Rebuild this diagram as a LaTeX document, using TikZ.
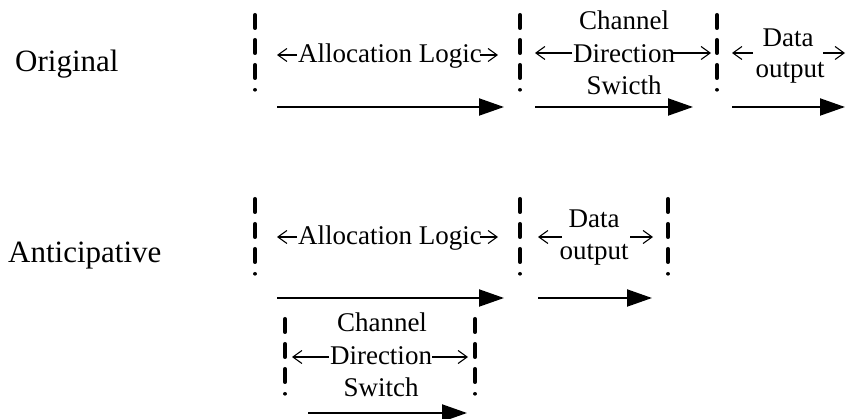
\documentclass[tikz,border=0pt]{standalone}
\usepackage{fontspec}
\setmainfont{Liberation Serif}
\usetikzlibrary{arrows.meta}
\begin{document}
\begin{tikzpicture}[x=1pt,y=-1pt,
  lbl/.style={font=\fontsize{31}{31}\selectfont, inner sep=0pt, anchor=base west},
  txt/.style={font=\fontsize{27}{27}\selectfont, inner sep=0pt, anchor=base},
  flow/.style={line width=2pt, -{Triangle[length=25pt,width=17pt]}},
  span/.style={line width=1.1pt, -{Straight Barb[length=9pt,width=13pt]}},
  sep/.style={line width=3.6pt, line cap=round,
    dash pattern=on 13.4pt off 11.6pt on 13.4pt off 11.6pt on 13.4pt off 11.6pt on 0.01pt off 100pt}]
\useasboundingbox (0,0) rectangle (852,419);

% ---------------- Original scheme ----------------
\node[lbl] (orig) at (15,72) {Original};

% phase separators
\coordinate (s1t) at (255,14.8); \coordinate (s1b) at (255,90);
\coordinate (s2t) at (520,14.8); \coordinate (s2b) at (520,90);
\coordinate (s3t) at (717,14.8); \coordinate (s3b) at (717,90);
\draw[sep] (s1t) -- (s1b);
\draw[sep] (s2t) -- (s2b);
\draw[sep] (s3t) -- (s3b);

% allocation logic
\node[txt] (al1) at (390,63) {Allocation Logic};
\coordinate (al1l) at (277,55); \coordinate (al1a) at (297,55);
\coordinate (al1b) at (480,55); \coordinate (al1r) at (498,55);
\draw[span] (al1a) -- (al1l);
\draw[span] (al1b) -- (al1r);

% channel direction switch
\node[txt] (cd1a) at (624,30) {Channel};
\node[txt] (cd1b) at (624,63) {Direction};
\node[txt] (cd1c) at (624,95) {Swicth};
\coordinate (cd1l) at (535,53); \coordinate (cd1p) at (572,53);
\coordinate (cd1q) at (671,53); \coordinate (cd1r) at (711,53);
\draw[span] (cd1p) -- (cd1l);
\draw[span] (cd1q) -- (cd1r);

% data output
\node[txt] (do1a) at (788,47) {Data};
\node[txt] (do1b) at (790,78) {output};
\coordinate (do1l) at (732,53); \coordinate (do1p) at (753,53);
\coordinate (do1q) at (823,53); \coordinate (do1r) at (845,53);
\draw[span] (do1p) -- (do1l);
\draw[span] (do1q) -- (do1r);

% time flow
\coordinate (f1a) at (277,107); \coordinate (f1b) at (504,107);
\coordinate (f2a) at (535,107); \coordinate (f2b) at (693,107);
\coordinate (f3a) at (732,107); \coordinate (f3b) at (845,107);
\draw[flow] (f1a) -- (f1b);
\draw[flow] (f2a) -- (f2b);
\draw[flow] (f3a) -- (f3b);

% ---------------- Anticipative scheme ----------------
\node[lbl] (antic) at (8,263) {Anticipative};

\coordinate (t1t) at (255,198.8); \coordinate (t1b) at (255,274);
\coordinate (t2t) at (520,198.8); \coordinate (t2b) at (520,274);
\coordinate (t3t) at (668,198.8); \coordinate (t3b) at (668,274);
\draw[sep] (t1t) -- (t1b);
\draw[sep] (t2t) -- (t2b);
\draw[sep] (t3t) -- (t3b);

% allocation logic
\node[txt] (al2) at (390,245) {Allocation Logic};
\coordinate (al2l) at (277,237); \coordinate (al2a) at (297,237);
\coordinate (al2b) at (480,237); \coordinate (al2r) at (498,237);
\draw[span] (al2a) -- (al2l);
\draw[span] (al2b) -- (al2r);

% data output
\node[txt] (do2a) at (594,228) {Data};
\node[txt] (do2b) at (594,260) {output};
\coordinate (do2l) at (538,237); \coordinate (do2p) at (562,237);
\coordinate (do2q) at (630,237); \coordinate (do2r) at (653,237);
\draw[span] (do2p) -- (do2l);
\draw[span] (do2q) -- (do2r);

\coordinate (g1a) at (277,298); \coordinate (g1b) at (504,298);
\coordinate (g2a) at (538,298); \coordinate (g2b) at (652,298);
\draw[flow] (g1a) -- (g1b);
\draw[flow] (g2a) -- (g2b);

% channel direction switch, overlapped with allocation logic
\coordinate (u1t) at (285,318.8); \coordinate (u1b) at (285,394);
\coordinate (u2t) at (475,318.8); \coordinate (u2b) at (475,394);
\draw[sep] (u1t) -- (u1b);
\draw[sep] (u2t) -- (u2b);

\node[txt] (cd2a) at (382,332) {Channel};
\node[txt] (cd2b) at (381,365) {Direction};
\node[txt] (cd2c) at (381,397) {Switch};
\coordinate (cd2l) at (292,357); \coordinate (cd2p) at (329,357);
\coordinate (cd2q) at (432,357); \coordinate (cd2r) at (468,357);
\draw[span] (cd2p) -- (cd2l);
\draw[span] (cd2q) -- (cd2r);

\coordinate (h1a) at (308,413); \coordinate (h1b) at (467,413);
\draw[flow] (h1a) -- (h1b);
\end{tikzpicture}
\end{document}
